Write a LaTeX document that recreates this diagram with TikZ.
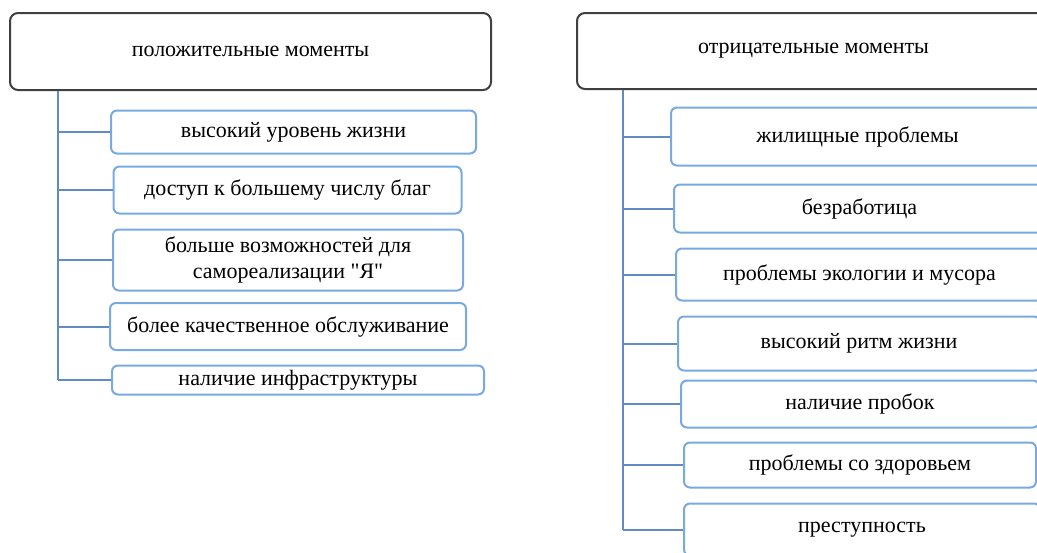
\documentclass[tikz,border=0pt]{standalone}
\usepackage{fontspec}
\setmainfont{Liberation Serif}[Ligatures=TeXOff]
\definecolor{headline}{RGB}{64,64,64}
\definecolor{itemline}{RGB}{120,170,225}
\definecolor{linkline}{RGB}{95,140,195}
\tikzset{
	head/.style={draw=headline, line width=1pt, rounded corners=4pt, fill=white, align=center},
	item/.style={draw=itemline, line width=1pt, rounded corners=3pt, fill=white, align=center, inner sep=2pt},
	link/.style={draw=linkline, line width=1pt},
	sz/.style 2 args={minimum width=#1*0.5pt, minimum height=#2*0.5pt},
}
\begin{document}
\begin{tikzpicture}[x=0.5pt, y=-0.5pt, font=\fontsize{11}{13}\selectfont, line join=round]
	\useasboundingbox (0,0) rectangle (1037,552);
	\clip (0,0) rectangle (1037,552);
	% left column
	\node[head, sz={481}{77}] (pos) at (250.5,51.5) {положительные моменты};
	\node[item, sz={365}{43}] (p1) at (293.5,132) {высокий уровень жизни};
	\node[item, sz={348}{47}] (p2) at (287.5,190) {доступ к большему числу благ};
	\node[item, sz={350}{61}] (p3) at (288,260) {больше возможностей для\\самореализации "Я"};
	\node[item, sz={356}{47}] (p4) at (288,326.5) {более качественное обслуживание};
	\node[item, sz={372}{29}] (p5) at (298,380) {наличие инфраструктуры};
	\coordinate (ptrunk) at (58,0);
	\draw[link] (ptrunk |- pos.south) -- (ptrunk |- p5.west);
	\foreach \i in {1,...,5}
		\draw[link] (ptrunk |- p\i.west) -- (p\i.west);
	% right column
	\node[head, sz={473}{76}] (neg) at (813.5,51) {отрицательные моменты};
	\node[item, sz={373}{58}] (n1) at (857.5,136.5) {жилищные проблемы};
	\node[item, sz={371}{48}] (n2) at (859.5,208.5) {безработица};
	\node[item, sz={367}{52}] (n3) at (859.5,274.5) {проблемы экологии и мусора};
	\node[item, sz={362}{54}] (n4) at (859,343.5) {высокий ритм жизни};
	\node[item, sz={358}{47}] (n5) at (860,404) {наличие пробок};
	\node[item, sz={352}{45}] (n6) at (860,465) {проблемы со здоровьем};
	\node[item, sz={356}{52}] (n7) at (862,529.5) {преступность};
	\coordinate (ntrunk) at (623,0);
	\draw[link] (ntrunk |- neg.south) -- (ntrunk |- n7.west);
	\foreach \i in {1,...,7}
		\draw[link] (ntrunk |- n\i.west) -- (n\i.west);
\end{tikzpicture}
\end{document}
